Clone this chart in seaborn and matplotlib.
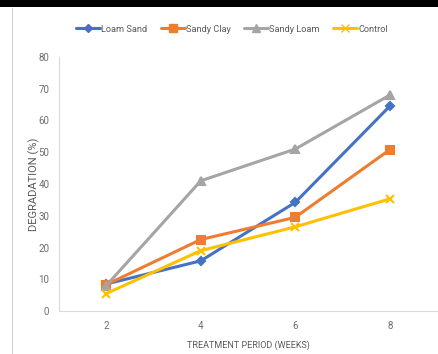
import matplotlib
matplotlib.use("Agg")
import matplotlib.pyplot as plt
import seaborn as sns
import pandas as pd
from matplotlib.patches import Rectangle
from matplotlib.lines import Line2D

weeks = [2, 4, 6, 8]
loam_sand = [8.5, 15.8, 34.2, 64.5]
sandy_clay = [8.3, 22.5, 29.5, 50.8]
sandy_loam = [8.0, 41.0, 51.0, 68.0]
control = [5.5, 19.0, 26.5, 35.3]
series_names = ["Loam Sand", "Sandy Clay", "Sandy Loam", "Control"]
y_ticks = [0, 10, 20, 30, 40, 50, 60, 70, 80]

colors = ["#4472C4", "#ED7D31", "#A5A5A5", "#FFC000"]
markers = ["D", "s", "^", "x"]
msizes = [4, 6, 6, 6]

df = pd.DataFrame({
    "week": weeks * 4,
    "value": loam_sand + sandy_clay + sandy_loam + control,
    "series": sum([[n] * len(weeks) for n in series_names], []),
})

sns.set_theme(style="white")
plt.rcParams["font.family"] = ["Roboto", "DejaVu Sans"]
plt.rcParams["font.stretch"] = "condensed"

fig = plt.figure(figsize=(4.38, 3.54), dpi=100)
ax = fig.add_axes([59 / 438, 43 / 354, 378 / 438, 254 / 354])

for name, c, m, ms in zip(series_names, colors, markers, msizes):
    sub = df[df["series"] == name]
    sns.lineplot(data=sub, x="week", y="value", ax=ax, color=c, linewidth=2.2,
                 marker=m, markersize=ms, markeredgecolor=c, markerfacecolor=c,
                 markeredgewidth=1.5, legend=False)

ax.set_xlim(1, 9)
ax.set_ylim(0, 80)
ax.set_xticks(weeks)
ax.set_yticks(y_ticks)
ax.tick_params(axis="both", length=0, labelsize=7, colors="#6E6E6E", pad=7)
for s in ["top", "right"]:
    ax.spines[s].set_visible(False)
for s in ["left", "bottom"]:
    ax.spines[s].set_color("#D9D9D9")
    ax.spines[s].set_linewidth(0.8)
ax.set_xlabel("TREATMENT PERIOD (WEEKS)", fontsize=6.5, color="#595959", labelpad=7)
ax.set_ylabel("DEGRADATION (%)", fontsize=8, fontstretch="normal", color="#595959",
              labelpad=-1)

handles = [Line2D([0], [0], color=c, marker=m, markersize=ms, markeredgecolor=c,
                  markerfacecolor=c, linewidth=2.2)
           for c, m, ms in zip(colors, markers, msizes)]
fig.legend(handles, series_names, loc="center", bbox_to_anchor=(232 / 438, 1 - 29 / 354),
           ncol=4, frameon=False, fontsize=6.6, labelcolor="#595959",
           handlelength=2.6, handletextpad=0.1, columnspacing=1.5)

# page frame: dark bar across the top and thin rule down the left
fig.add_artist(Rectangle((0, 1 - 7 / 354), 1, 7 / 354, transform=fig.transFigure,
                         facecolor="black", edgecolor="none"))
fig.add_artist(Line2D([12 / 438, 12 / 438], [0, 1 - 8 / 354], transform=fig.transFigure,
                      color="#D0D0D0", linewidth=0.8))

fig.savefig("out.png", dpi=100)
